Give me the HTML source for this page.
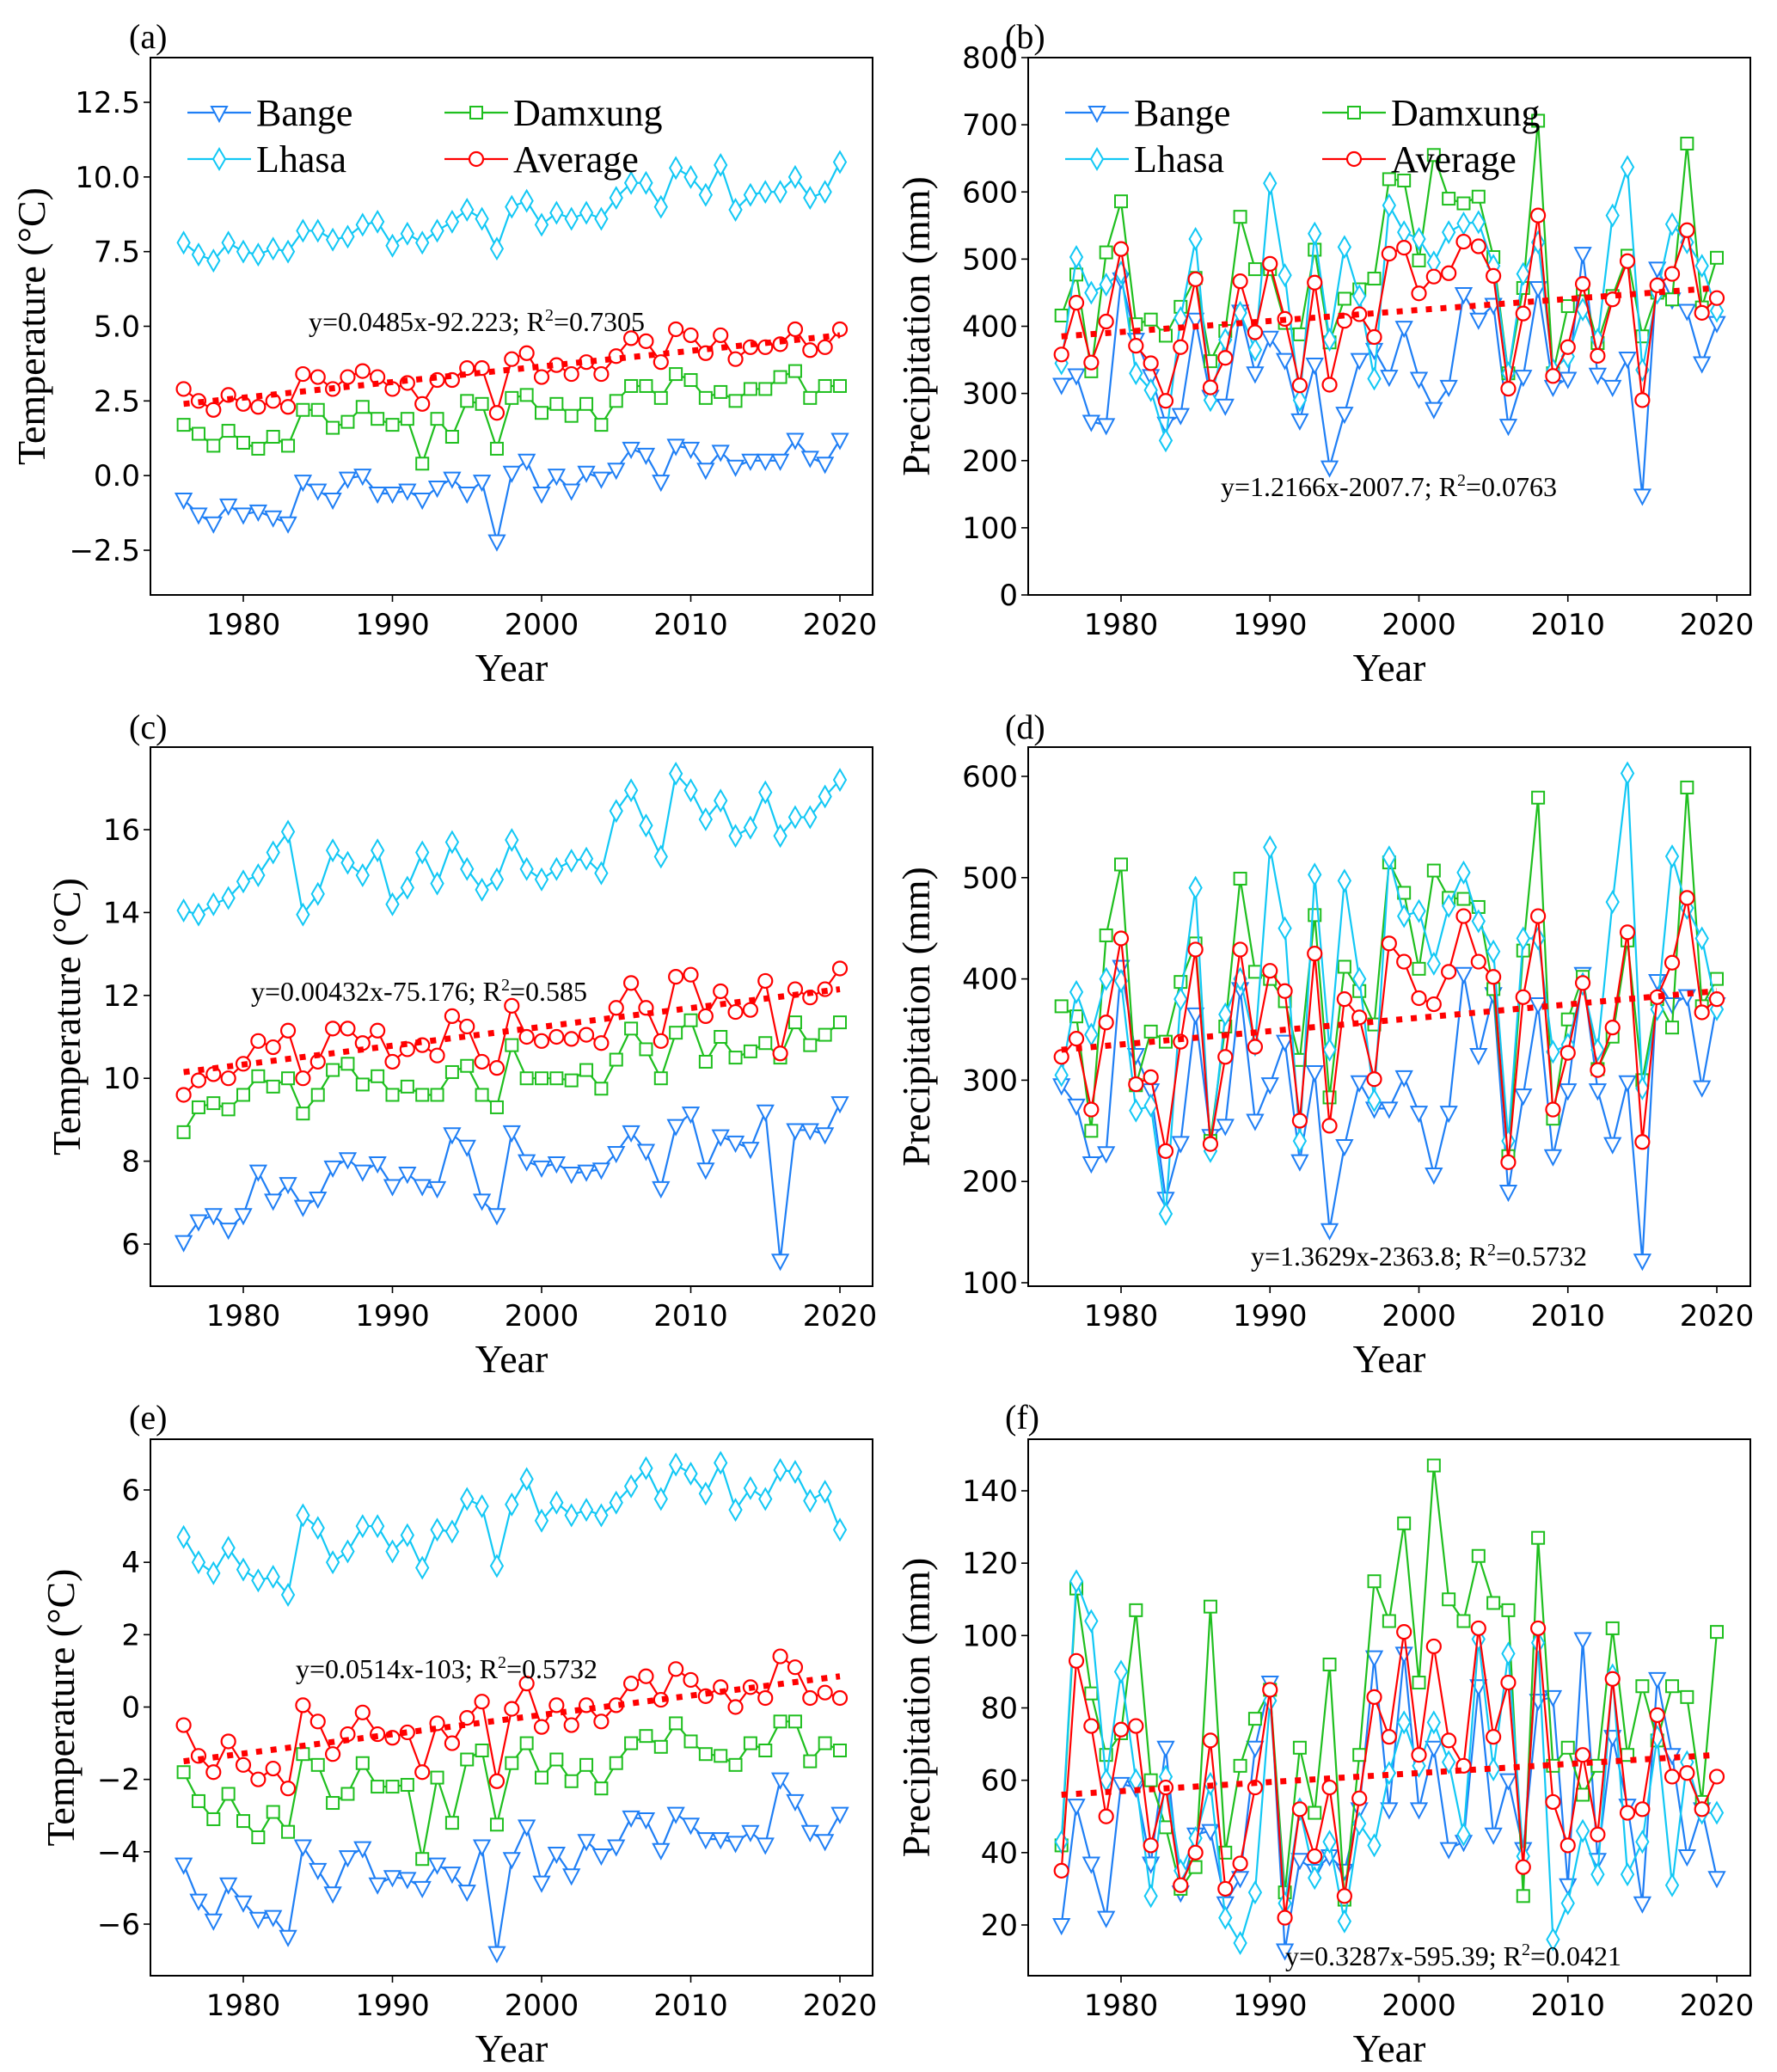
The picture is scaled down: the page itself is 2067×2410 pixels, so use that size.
<!DOCTYPE html>
<html><head><meta charset="utf-8"><style>
html,body{margin:0;padding:0;background:#fff}
svg{display:block}
.tk{font-family:"DejaVu Sans","Liberation Sans",sans-serif;font-size:34px;fill:#000}
.sr{font-family:"Liberation Serif",serif;fill:#000}
</style></head><body>
<svg id="fig" xmlns="http://www.w3.org/2000/svg" width="2067" height="2410" viewBox="0 0 2067 2410"></svg>
<script>
const years=[];for(let y=1976;y<=2020;y++)years.push(y);
const xTicks=[1980,1990,2000,2010,2020];
// (a) annual temperature
const aBange=[-0.8,-1.3,-1.6,-1.0,-1.3,-1.2,-1.4,-1.6,-0.2,-0.5,-0.8,-0.1,0.0,-0.6,-0.6,-0.5,-0.8,-0.4,-0.1,-0.6,-0.2,-2.2,0.1,0.5,-0.6,0.0,-0.5,0.1,-0.1,0.2,0.9,0.7,-0.2,1.0,0.9,0.2,0.8,0.3,0.5,0.5,0.5,1.2,0.6,0.4,1.2];
const aDamxung=[1.7,1.4,1.0,1.5,1.1,0.9,1.3,1.0,2.2,2.2,1.6,1.8,2.3,1.9,1.7,1.9,0.4,1.9,1.3,2.5,2.4,0.9,2.6,2.7,2.1,2.4,2.0,2.4,1.7,2.5,3.0,3.0,2.6,3.4,3.2,2.6,2.8,2.5,2.9,2.9,3.3,3.5,2.6,3.0,3.0];
const aLhasa=[7.8,7.4,7.2,7.8,7.5,7.4,7.6,7.5,8.2,8.2,7.9,8.0,8.4,8.5,7.7,8.1,7.8,8.2,8.5,8.9,8.6,7.6,9.0,9.2,8.4,8.8,8.6,8.8,8.6,9.3,9.8,9.8,9.0,10.3,10.0,9.4,10.4,8.9,9.4,9.5,9.5,10.0,9.3,9.5,10.5];
const aAverage=[2.9,2.5,2.2,2.7,2.4,2.3,2.5,2.3,3.4,3.3,2.9,3.3,3.5,3.3,2.9,3.1,2.4,3.2,3.2,3.6,3.6,2.1,3.9,4.1,3.3,3.7,3.4,3.8,3.4,4.0,4.6,4.5,3.8,4.9,4.7,4.1,4.7,3.9,4.3,4.3,4.4,4.9,4.2,4.3,4.9];
const aTrend=[2.4,4.7];
const aYTicks=[-2.5,0,2.5,5,7.5,10,12.5];
// (b) annual precipitation
const bBange=[313,327,258,253,470,380,326,255,268,410,295,282,422,330,383,350,260,343,190,270,350,365,325,398,322,277,310,448,410,432,252,325,457,310,322,508,328,310,352,148,486,440,423,345,405];
const bDamxung=[416,477,333,510,586,403,410,386,429,472,348,393,563,485,485,405,388,514,376,441,455,471,619,617,498,655,590,583,593,503,330,457,706,330,430,455,375,445,505,385,450,440,672,428,502];
const bLhasa=[345,503,450,462,480,330,305,230,412,530,290,380,420,365,613,476,290,538,380,518,445,322,580,540,530,495,540,553,555,490,330,478,525,335,355,425,380,565,637,335,450,552,525,490,423];
const bAverage=[358,435,346,407,515,371,345,289,369,470,309,353,467,391,493,411,312,465,313,408,418,384,508,517,449,474,479,526,519,475,307,419,565,326,369,463,356,440,497,290,461,478,543,420,442];
const bTrend=[385,457];
const bYTicks=[0,100,200,300,400,500,600,700,800];
// (c)
const cBange=[6.05,6.55,6.7,6.35,6.7,7.75,7.05,7.45,6.9,7.1,7.85,8.05,7.75,7.95,7.4,7.7,7.4,7.35,8.65,8.35,7.05,6.7,8.7,8.0,7.85,7.95,7.7,7.75,7.8,8.2,8.7,8.25,7.35,8.85,9.15,7.8,8.6,8.45,8.3,9.2,5.6,8.75,8.75,8.65,9.4];
const cDamxung=[8.7,9.3,9.4,9.25,9.6,10.05,9.8,10.0,9.15,9.6,10.2,10.35,9.85,10.05,9.6,9.8,9.6,9.6,10.15,10.3,9.6,9.3,10.8,10.0,10.0,10.0,9.95,10.2,9.75,10.45,11.2,10.7,10.0,11.1,11.4,10.4,11.0,10.5,10.65,10.85,10.5,11.35,10.8,11.05,11.35];
const cLhasa=[14.05,13.95,14.2,14.35,14.75,14.9,15.45,15.95,13.95,14.45,15.5,15.2,14.9,15.5,14.2,14.6,15.45,14.7,15.7,15.05,14.55,14.8,15.75,15.05,14.8,15.05,15.25,15.3,14.95,16.45,16.95,16.1,15.35,17.35,16.95,16.25,16.7,15.85,16.05,16.9,15.85,16.3,16.3,16.8,17.2];
const cAverage=[9.6,9.95,10.1,10.0,10.35,10.9,10.75,11.15,10.0,10.4,11.2,11.2,10.85,11.15,10.4,10.7,10.8,10.55,11.5,11.25,10.4,10.25,11.75,11.0,10.9,11.0,10.95,11.05,10.85,11.7,12.3,11.7,10.9,12.45,12.5,11.5,12.1,11.6,11.65,12.35,10.6,12.15,11.95,12.15,12.65];
const cTrend=[10.15,12.15];
const cYTicks=[6,8,10,12,14,16];
// (d)
const dBange=[295,275,218,228,412,325,290,183,238,365,245,255,390,260,296,338,220,308,152,235,298,272,272,303,268,207,268,405,325,385,190,285,375,225,290,405,290,237,298,122,398,375,383,293,375];
const dDamxung=[373,363,250,443,513,295,348,338,397,435,240,353,499,407,400,378,320,463,283,412,388,355,515,485,410,507,480,479,471,390,225,428,579,262,360,402,311,343,438,300,380,352,589,373,400];
const dLhasa=[305,387,345,400,398,270,275,168,380,490,230,365,400,335,530,450,240,503,330,497,400,280,520,462,467,415,472,505,457,427,240,440,440,328,335,395,330,476,603,292,370,521,470,440,370];
const dAverage=[323,341,271,357,440,296,303,230,338,429,237,323,429,333,408,388,260,425,255,380,362,301,435,417,381,375,407,462,417,402,219,382,462,271,327,396,310,352,446,239,382,416,480,367,380];
const dTrend=[330,388];
const dYTicks=[100,200,300,400,500,600];
// (e)
const eBange=[-4.35,-5.35,-5.9,-4.9,-5.4,-5.85,-5.8,-6.35,-3.85,-4.5,-5.15,-4.15,-3.9,-4.9,-4.7,-4.75,-5.0,-4.35,-4.6,-5.1,-3.85,-6.8,-4.2,-3.3,-4.85,-4.05,-4.65,-3.7,-4.1,-3.85,-3.05,-3.1,-3.95,-2.95,-3.25,-3.65,-3.65,-3.75,-3.45,-3.8,-2.0,-2.6,-3.45,-3.7,-2.95];
const eDamxung=[-1.8,-2.6,-3.1,-2.4,-3.15,-3.6,-2.9,-3.45,-1.3,-1.6,-2.65,-2.4,-1.55,-2.2,-2.2,-2.15,-4.2,-1.95,-3.2,-1.45,-1.2,-3.25,-1.55,-1.0,-1.95,-1.45,-2.05,-1.6,-2.25,-1.55,-1.0,-0.8,-1.1,-0.45,-0.95,-1.3,-1.35,-1.6,-1.0,-1.2,-0.4,-0.4,-1.5,-1.0,-1.2];
const eLhasa=[4.7,4.0,3.7,4.4,3.8,3.5,3.6,3.1,5.3,4.95,4.0,4.3,5.0,5.0,4.3,4.75,3.85,4.9,4.85,5.75,5.55,3.9,5.6,6.3,5.15,5.65,5.3,5.45,5.3,5.65,6.1,6.6,5.75,6.7,6.45,5.9,6.75,5.45,6.05,5.75,6.55,6.5,5.7,5.95,4.9];
const eAverage=[-0.5,-1.35,-1.8,-0.95,-1.6,-2.0,-1.7,-2.25,0.05,-0.4,-1.3,-0.75,-0.15,-0.75,-0.85,-0.7,-1.8,-0.45,-1.0,-0.3,0.15,-2.05,-0.05,0.65,-0.55,0.05,-0.5,0.05,-0.4,0.05,0.65,0.85,0.2,1.05,0.75,0.3,0.55,0.0,0.55,0.25,1.4,1.1,0.25,0.4,0.25];
const eTrend=[-1.5,0.85];
const eYTicks=[-6,-4,-2,0,2,4,6];
// (f)
const fBange=[20,53,37,22,59,58,37,69,29,45,46,26,33,69,87,13,38,35,39,35,52,94,52,95,52,69,41,43,86,45,60,41,82,83,31,99,38,72,53,26,88,67,39,52,33];
const fDamxung=[42,113,84,67,73,107,60,47,30,36,108,40,64,77,85,29,69,51,92,27,67,115,104,131,87,147,110,104,122,109,107,28,127,64,69,56,64,102,67,86,71,86,83,54,101];
const fLhasa=[43,115,104,60,90,60,28,61,35,44,59,22,15,29,82,26,52,33,43,21,48,42,62,76,64,76,65,45,99,63,95,39,98,16,26,46,34,89,34,43,72,31,65,51,51];
const fAverage=[35,93,75,50,74,75,42,58,31,40,71,30,37,58,85,22,52,39,58,28,55,83,72,101,67,97,71,64,102,72,87,36,102,54,42,67,45,88,51,52,78,61,62,52,61];
const fTrend=[56,67];
const fYTicks=[20,40,60,80,100,120,140];

const NS='http://www.w3.org/2000/svg';
const svg=document.getElementById('fig');
function mk(tag,attrs,parent){const e=document.createElementNS(NS,tag);for(const k in attrs)e.setAttribute(k,attrs[k]);(parent||svg).appendChild(e);return e;}
const COL={Bange:'#1f7ff5',Damxung:'#1fbf1f',Lhasa:'#12c8f5',Average:'#ff0000'};

function marker(g,type,x,y,color){
  let m;
  if(type==='tri'){m=mk('polygon',{points:`${x-9},${y-7} ${x+9},${y-7} ${x},${y+10}`,fill:'#fff',stroke:color,'stroke-width':2},g);}
  else if(type==='sq'){m=mk('rect',{x:x-7,y:y-7,width:14,height:14,fill:'#fff',stroke:color,'stroke-width':2},g);}
  else if(type==='dia'){m=mk('polygon',{points:`${x},${y-12} ${x+7},${y} ${x},${y+12} ${x-7},${y}`,fill:'#fff',stroke:color,'stroke-width':2},g);}
  else {m=mk('circle',{cx:x,cy:y,r:8,fill:'#fff',stroke:color,'stroke-width':2.2},g);}
  return m;
}

function panel(p){
  const g=mk('g',{});
  
  
  const X=v=>p.x1980+(v-1980)*(p.x2020-p.x1980)/40;
  const Y=v=>p.yA+(v-p.vA)*(p.yB-p.yA)/(p.vB-p.vA);
  // panel letter
  const lab=mk('text',{x:p.labX,y:p.labY,class:'sr','font-size':40},g);lab.textContent='('+p.id+')';
  
  
  // ticks
  xTicks.forEach(t=>{
    mk('line',{x1:X(t),x2:X(t),y1:p.bottom,y2:p.bottom+8,stroke:'#000','stroke-width':1.6},g);
    const tx=mk('text',{x:X(t),y:p.bottom+46,class:'tk','text-anchor':'middle'},g);tx.textContent=t;
    
    
  });
  p.yTicks.forEach(t=>{
    mk('line',{x1:p.left-8,x2:p.left,y1:Y(t),y2:Y(t),stroke:'#000','stroke-width':1.6},g);
    const tx=mk('text',{x:p.left-12,y:Y(t)+12,class:'tk','text-anchor':'end'},g);
    tx.textContent=(p.dec?t.toFixed(1):String(t)).replace('-','\u2212');
    
    
  });
  // series
  const series=[['Bange','tri'],['Damxung','sq'],['Lhasa','dia'],['Average','circ']];
  series.forEach(([name,mt])=>{
    const vals=p.data[name];
    const sg=mk('g',{},g);
    
    
    mk('polyline',{points:vals.map((v,i)=>X(years[i])+','+Y(v)).join(' '),fill:'none',stroke:COL[name],'stroke-width':2.2},sg);
    vals.forEach((v,i)=>marker(sg,mt,X(years[i]),Y(v),COL[name]));
  });
  // trend
  const tr=mk('line',{x1:X(1976),y1:Y(p.trend[0]),x2:X(2020),y2:Y(p.trend[1]),stroke:'#ff0000','stroke-width':7,'stroke-dasharray':'7 10'},g);
  
  
  // equation
  const eq=mk('text',{x:p.eqX,y:p.eqY,class:'sr','font-size':32},g);
  eq.innerHTML=p.eq;
  
  
  // frame
  const fr=mk('rect',{x:p.left,y:p.top,width:p.right-p.left,height:p.bottom-p.top,fill:'none',stroke:'#000','stroke-width':2},g);
  
  
  // axis labels
  const xl=mk('text',{x:(p.left+p.right)/2,y:p.bottom+100,class:'sr','font-size':46,'text-anchor':'middle'},g);xl.textContent='Year';
  
  
  const cy=(p.top+p.bottom)/2;
  const yl=mk('text',{x:p.ylX,y:cy,class:'sr','font-size':46,'text-anchor':'middle',transform:`rotate(-90 ${p.ylX} ${cy})`},g);
  yl.textContent=p.ylabel;
  
  
  // legend
  if(p.legend){
    const L=p.legend;
    const items=[['Bange','tri',0,0],['Damxung','sq',1,0],['Lhasa','dia',0,1],['Average','circ',1,1]];
    items.forEach(([name,mt,c,r])=>{
      const lg=mk('g',{},g);
      
      
      const lx=L.x+c*L.dx, ly=L.y+r*L.dy;
      mk('line',{x1:lx,x2:lx+74,y1:ly,y2:ly,stroke:COL[name],'stroke-width':2.2},lg);
      marker(lg,mt,lx+37,ly,COL[name]);
      const t=mk('text',{x:lx+80,y:ly+15,class:'sr','font-size':44},lg);t.textContent=name;
    });
  }
}
const leftX={left:175,right:1015,x1980:283,x2020:977};
const rightX={left:1196,right:2036,x1980:1304,x2020:1997};
const TL='Temperature (\u00B0C)', PL='Precipitation (mm)';
panel(Object.assign({id:'a',top:67,bottom:692,yA:119,vA:12.5,yB:640,vB:-2.5,yTicks:aYTicks,dec:true,data:{Bange:aBange,Damxung:aDamxung,Lhasa:aLhasa,Average:aAverage},trend:aTrend,eqX:359,eqY:385,eq:'y=0.0485x-92.223; R<tspan font-size="20" dy="-12">2</tspan><tspan dy="12">=0.7305</tspan>',labX:150,labY:56,ylX:52,ylabel:TL,legend:{x:218,y:131,dx:299,dy:54}},leftX));
panel(Object.assign({id:'b',top:67,bottom:692,yA:67,vA:800,yB:692,vB:0,yTicks:bYTicks,data:{Bange:bBange,Damxung:bDamxung,Lhasa:bLhasa,Average:bAverage},trend:bTrend,eqX:1420,eqY:577,eq:'y=1.2166x-2007.7; R<tspan font-size="20" dy="-12">2</tspan><tspan dy="12">=0.0763</tspan>',labX:1169,labY:56,ylX:1081,ylabel:PL,legend:{x:1239,y:131,dx:299,dy:54}},rightX));
panel(Object.assign({id:'c',top:869,bottom:1496,yA:965,vA:16,yB:1447,vB:6,yTicks:cYTicks,data:{Bange:cBange,Damxung:cDamxung,Lhasa:cLhasa,Average:cAverage},trend:cTrend,eqX:292,eqY:1164,eq:'y=0.00432x-75.176; R<tspan font-size="20" dy="-12">2</tspan><tspan dy="12">=0.585</tspan>',labX:150,labY:859,ylX:93,ylabel:TL},leftX));
panel(Object.assign({id:'d',top:869,bottom:1496,yA:903,vA:600,yB:1492,vB:100,yTicks:dYTicks,data:{Bange:dBange,Damxung:dDamxung,Lhasa:dLhasa,Average:dAverage},trend:dTrend,eqX:1455,eqY:1472,eq:'y=1.3629x-2363.8; R<tspan font-size="20" dy="-12">2</tspan><tspan dy="12">=0.5732</tspan>',labX:1169,labY:859,ylX:1081,ylabel:PL},rightX));
panel(Object.assign({id:'e',top:1674,bottom:2298,yA:1733,vA:6,yB:2238,vB:-6,yTicks:eYTicks,data:{Bange:eBange,Damxung:eDamxung,Lhasa:eLhasa,Average:eAverage},trend:eTrend,eqX:344,eqY:1952,eq:'y=0.0514x-103; R<tspan font-size="20" dy="-12">2</tspan><tspan dy="12">=0.5732</tspan>',labX:150,labY:1662,ylX:86,ylabel:TL},leftX));
panel(Object.assign({id:'f',top:1674,bottom:2298,yA:1734,vA:140,yB:2239,vB:20,yTicks:fYTicks,data:{Bange:fBange,Damxung:fDamxung,Lhasa:fLhasa,Average:fAverage},trend:fTrend,eqX:1495,eqY:2286,eq:'y=0.3287x-595.39; R<tspan font-size="20" dy="-12">2</tspan><tspan dy="12">=0.0421</tspan>',labX:1169,labY:1662,ylX:1081,ylabel:PL},rightX));
</script>
</body></html>
